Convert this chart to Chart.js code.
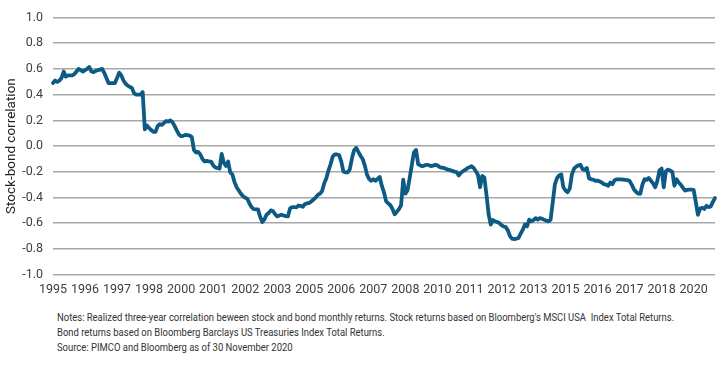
<!DOCTYPE html>
<html>
<head>
<meta charset="utf-8">
<script src="https://cdn.jsdelivr.net/npm/chart.js@4.4.1/dist/chart.umd.min.js"></script>
<style>
  html, body { margin: 0; padding: 0; background: #ffffff; }
  #wrap { position: relative; width: 720px; height: 365px; overflow: hidden; }
  #box { position: absolute; left: 0; top: 0; width: 720px; height: 300px; }
  #notes { position: absolute; left: 57px; top: 310px; font-family: Roboto, 'Liberation Sans', sans-serif; font-size: 11px; line-height: 15px; color: #333; white-space: nowrap; transform: scaleX(0.86); transform-origin: 0 0; }
</style>
</head>
<body>
<div id="wrap">
  <div id="box"><canvas id="c"></canvas></div>
  <div id="notes">
    <div>Notes: Realized three-year correlation beween stock and bond monthly returns. Stock returns based on Bloomberg's MSCI USA&nbsp; Index Total Returns.</div>
    <div>Bond returns based on Bloomberg Barclays US Treasuries Index Total Returns.</div>
    <div>Source: PIMCO and Bloomberg as of 30 November 2020</div>
  </div>
</div>
<script>
// Monthly stock-bond correlation, Jan 1995 .. Nov 2020
const startYear = 1995;
const correlation = [
  // 1995
  0.49, 0.51, 0.50, 0.51, 0.53, 0.58, 0.54, 0.55, 0.55, 0.55, 0.56, 0.58,
  // 1996
  0.60, 0.59, 0.58, 0.59, 0.60, 0.615, 0.58, 0.575, 0.585, 0.59, 0.595, 0.60,
  // 1997
  0.57, 0.53, 0.49, 0.49, 0.49, 0.49, 0.53, 0.57, 0.55, 0.51, 0.485, 0.47,
  // 1998
  0.46, 0.45, 0.41, 0.40, 0.40, 0.40, 0.42, 0.13, 0.16, 0.14, 0.125, 0.11,
  // 1999
  0.11, 0.155, 0.17, 0.165, 0.18, 0.195, 0.19, 0.20, 0.185, 0.155, 0.12, 0.09,
  // 2000
  0.077, 0.08, 0.087, 0.085, 0.082, 0.07, -0.03, -0.05, -0.045, -0.065, -0.10, -0.12,
  // 2001
  -0.115, -0.118, -0.12, -0.15, -0.165, -0.17, -0.175, -0.06, -0.13, -0.155, -0.12, -0.205,
  // 2002
  -0.22, -0.28, -0.32, -0.345, -0.37, -0.39, -0.40, -0.41, -0.447, -0.475, -0.49, -0.492,
  // 2003
  -0.492, -0.55, -0.59, -0.57, -0.534, -0.52, -0.50, -0.505, -0.53, -0.547, -0.54, -0.534,
  // 2004
  -0.54, -0.545, -0.547, -0.485, -0.475, -0.475, -0.477, -0.462, -0.465, -0.472, -0.45, -0.445,
  // 2005
  -0.441, -0.43, -0.415, -0.40, -0.38, -0.37, -0.35, -0.29, -0.25, -0.19, -0.14, -0.08,
  // 2006
  -0.065, -0.065, -0.07, -0.12, -0.198, -0.205, -0.205, -0.18, -0.095, -0.032, -0.014, -0.045,
  // 2007
  -0.075, -0.10, -0.15, -0.22, -0.255, -0.27, -0.258, -0.27, -0.255, -0.24, -0.31, -0.36,
  // 2008
  -0.43, -0.445, -0.46, -0.49, -0.53, -0.51, -0.49, -0.46, -0.26, -0.37, -0.345, -0.25,
  // 2009
  -0.15, -0.05, -0.03, -0.14, -0.15, -0.157, -0.15, -0.145, -0.148, -0.155, -0.152, -0.145,
  // 2010
  -0.15, -0.162, -0.168, -0.17, -0.177, -0.183, -0.187, -0.193, -0.198, -0.202, -0.228, -0.208,
  // 2011
  -0.195, -0.185, -0.172, -0.165, -0.157, -0.17, -0.195, -0.225, -0.32, -0.232, -0.245, -0.38,
  // 2012
  -0.53, -0.61, -0.575, -0.585, -0.59, -0.598, -0.615, -0.625, -0.63, -0.655, -0.70, -0.72,
  // 2013
  -0.723, -0.72, -0.715, -0.68, -0.65, -0.61, -0.623, -0.572, -0.585, -0.575, -0.56, -0.572,
  // 2014
  -0.56, -0.565, -0.572, -0.58, -0.585, -0.572, -0.44, -0.30, -0.25, -0.228, -0.22, -0.32,
  // 2015
  -0.345, -0.358, -0.33, -0.22, -0.175, -0.16, -0.15, -0.145, -0.18, -0.185, -0.17, -0.25,
  // 2016
  -0.258, -0.26, -0.27, -0.268, -0.275, -0.283, -0.296, -0.30, -0.308, -0.283, -0.296, -0.265,
  // 2017
  -0.258, -0.258, -0.258, -0.26, -0.263, -0.265, -0.27, -0.30, -0.335, -0.355, -0.37, -0.371,
  // 2018
  -0.30, -0.258, -0.263, -0.248, -0.27, -0.29, -0.32, -0.27, -0.19, -0.175, -0.32, -0.195,
  // 2019
  -0.183, -0.19, -0.20, -0.308, -0.258, -0.283, -0.30, -0.325, -0.346, -0.34, -0.338, -0.338,
  // 2020 (to Nov)
  -0.34, -0.434, -0.534, -0.485, -0.479, -0.489, -0.464, -0.475, -0.47, -0.434, -0.404
];
// Category labels: one per month
const monthLabels = correlation.map((_, i) => (startYear + Math.floor(i / 12)) + '-' + String(i % 12 + 1).padStart(2, '0'));
// Tick labels shown every 15 months
const tickEvery = 15;
const xTickLabels = ['1995','1996','1997','1998','2000','2001','2002','2003','2005','2006','2007','2008','2010','2011','2012','2013','2015','2016','2017','2018','2020'];
const yTitle = 'Stock-bond correlation';

const tickFont = { family: "Roboto, 'Liberation Sans', sans-serif", size: 12.5 };

new Chart(document.getElementById('c'), {
  type: 'line',
  data: {
    labels: monthLabels,
    datasets: [{
      data: correlation,
      borderColor: '#0d5a85',
      borderWidth: 3.8,
      pointRadius: 0,
      tension: 0,
      borderJoinStyle: 'round',
      borderCapStyle: 'round',
      fill: false
    }]
  },
  options: {
    responsive: true,
    maintainAspectRatio: false,
    animation: false,
    events: [],
    layout: { padding: { left: 0, right: 5, top: 10, bottom: 0 } },
    plugins: { legend: { display: false }, tooltip: { enabled: false } },
    scales: {
      x: {
        type: 'category',
        offset: false,
        grid: { display: false },
        border: { display: false },
        ticks: {
          autoSkip: false,
          maxRotation: 0,
          minRotation: 0,
          padding: 0,
          color: '#404040',
          font: tickFont,
          callback: (v, i) => (i % tickEvery === 0 ? xTickLabels[i / tickEvery] : null)
        },
        afterFit: (s) => { s.height = 25.3; }
      },
      y: {
        min: -1,
        max: 1,
        grid: { color: '#a8a8a8', lineWidth: 1.6, drawTicks: false },
        border: { display: false },
        ticks: {
          stepSize: 0.2,
          padding: 10,
          color: '#404040',
          font: tickFont,
          callback: (v) => (Math.abs(v) < 1e-9 ? '0.0' : v.toFixed(1))
        },
        title: {
          display: true,
          text: yTitle,
          color: '#222',
          font: { family: "Roboto, 'Liberation Sans', sans-serif", size: 13.5 },
          padding: { top: 4, bottom: 0 }
        },
        afterFit: (s) => { s.width = 53; }
      }
    }
  }
});
</script>
</body>
</html>
